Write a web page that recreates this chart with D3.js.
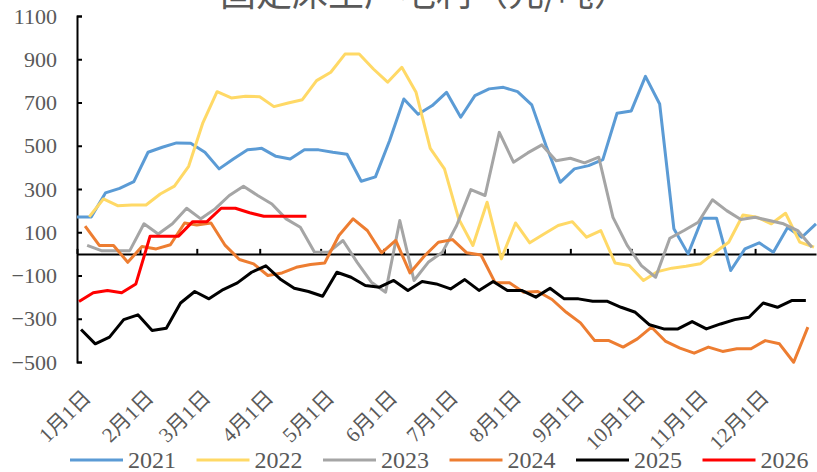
<!DOCTYPE html>
<html>
<head>
<meta charset="utf-8">
<script src="https://cdn.jsdelivr.net/npm/d3@7"></script>
<style>
  body { margin: 0; background: #fff; }
  #svg-container { width: 817px; height: 472px; }
</style>
</head>
<body>
<div id="svg-container"></div>
<script>
// weekly (Friday) readings, one array per year
const years = [2021, 2022, 2023, 2024, 2025, 2026];
const colors = ['#5B9BD5', '#FFD966', '#A5A5A5', '#ED7D31', '#000000', '#FF0000'];

const v2021 = [171, 171, 282, 303, 334, 470, 493, 513, 512, 470, 393, 439, 481, 488, 451, 439, 481, 481, 470, 461,
  336, 356, 524, 716, 646, 686, 747, 632, 732, 763, 770, 750, 689, 501, 331, 393, 408, 436, 650, 661,
  821, 693, 116, 0, 165, 165, -77, 23, 51, 8, 122, 77, 139];
const v2022 = [171, 254, 223, 226, 226, 277, 313, 405, 606, 750, 721, 729, 727, 681, 698, 713, 801, 840, 924, 924,
  855, 794, 863, 747, 488, 393, 162, 39, 239, -23, 143, 51, 92, 131, 149, 77, 108, -42, -54, -123,
  -82, -66, -57, -46, 5, 54, 180, 169, 139, 188, 54, 31];
const v2023 = [39, 15, 15, 15, 139, 92, 139, 211, 162, 208, 270, 313, 270, 231, 162, 123, 8, 8, 62, -39,
  -131, -177, 154, -123, -39, 8, 131, 297, 270, 562, 424, 467, 504, 431, 442, 421, 447, 169, 39, -54,
  -108, 72, 108, 146, 250, 200, 159, 169, 154, 139, 108, 31];
const v2024 = [128, 39, 39, -39, 34, 23, 42, 143, 134, 143, 39, -26, -46, -100, -88, -62, -49, -42, 85, 162,
  108, 5, 62, -88, -11, 54, 66, 5, -5, -134, -134, -177, -174, -211, -270, -319, -401, -401, -431, -393,
  -339, -405, -436, -459, -431, -451, -439, -439, -401, -416, -501, -339];
const v2025 = [-350, -416, -385, -304, -282, -354, -344, -227, -174, -208, -165, -134, -85, -55, -116, -159, -174, -196, -85, -108,
  -146, -154, -123, -169, -128, -139, -162, -119, -169, -128, -169, -169, -200, -159, -208, -208, -219, -219, -247, -270,
  -328, -347, -347, -313, -347, -324, -304, -293, -227, -247, -216, -216];
const v2026 = [-220, -180, -169, -180, -139, 82, 82, 82, 149, 149, 211, 211, 190, 174, 174, 174, 174];

const seriesValues = [v2021, v2022, v2023, v2024, v2025, v2026];
const yTicks = [-500, -300, -100, 100, 300, 500, 700, 900, 1100];
const monthLabels = ['1月1日', '2月1日', '3月1日', '4月1日', '5月1日', '6月1日',
  '7月1日', '8月1日', '9月1日', '10月1日', '11月1日', '12月1日'];
const title = '固定床生产毛利（元/吨）';

const BASE_YEAR = 2021;
const WIDTH = 817;
const HEIGHT = 472;
const LEFT = 77;
const RIGHT = 816;
const TOP = 16;
const BOTTOM = 362;
const SERIF = '"Liberation Serif", "Noto Sans CJK SC", serif';
const TEXT_COLOR = '#595959';

// put each Friday of a year on the same month/day of the base year
const fridayDates = (year, count) =>
  d3.timeFriday
    .range(new Date(year, 0, 1), new Date(year + 1, 0, 1))
    .slice(0, count)
    .map((d) => new Date(BASE_YEAR, d.getMonth(), d.getDate()));

const drawChart = () => {
  const svg = d3.create('svg').attr('width', WIDTH).attr('height', HEIGHT);

  const xScale = d3
    .scaleTime()
    .domain([new Date(BASE_YEAR, 0, 1), new Date(BASE_YEAR, 11, 31)])
    .range([LEFT, RIGHT]);
  const yScale = d3.scaleLinear().domain([-500, 1100]).range([BOTTOM, TOP]);

  const monthStarts = d3.range(12).map((m) => new Date(BASE_YEAR, m, 1));

  // title, mostly cut off at the top edge like in the source image
  svg
    .append('text')
    .attr('x', 425)
    .attr('y', 6)
    .attr('text-anchor', 'middle')
    .attr('font-family', '"Noto Sans CJK SC", sans-serif')
    .attr('font-size', 36)
    .attr('fill', TEXT_COLOR)
    .text(title);

  // y axis
  const yAxis = svg
    .append('g')
    .attr('transform', `translate(${LEFT}, 0)`)
    .call(
      d3.axisLeft(yScale).tickValues(yTicks).tickSize(-5).tickPadding(20).tickFormat(d3.format('d'))
    );
  yAxis.select('.domain').attr('stroke', '#000').attr('stroke-width', 2);
  yAxis.selectAll('.tick line').attr('stroke', '#000').attr('stroke-width', 2);
  yAxis
    .selectAll('.tick text')
    .attr('font-family', SERIF)
    .attr('font-size', 22)
    .attr('fill', TEXT_COLOR);

  // zero line with month ticks
  const xAxis = svg
    .append('g')
    .attr('transform', `translate(0, ${yScale(0)})`)
    .call(d3.axisBottom(xScale).tickValues(monthStarts).tickSize(-5).tickSizeOuter(0).tickFormat(''));
  xAxis.select('.domain').attr('stroke', '#000').attr('stroke-width', 2);
  xAxis.selectAll('.tick line').attr('stroke', '#000').attr('stroke-width', 2);

  // month labels below the plot
  svg
    .append('g')
    .selectAll('text')
    .data(monthStarts)
    .join('text')
    .attr('transform', (d) => `translate(${xScale(d) + 15}, 399) rotate(-45)`)
    .attr('text-anchor', 'end')
    .attr('font-family', SERIF)
    .attr('font-size', 21)
    .attr('fill', TEXT_COLOR)
    .text((d, i) => monthLabels[i]);

  const line = d3
    .line()
    .x((d) => xScale(d.date))
    .y((d) => yScale(d.value));

  const series = years.map((year, i) => {
    const dates = fridayDates(year, seriesValues[i].length);
    return { year, color: colors[i], points: seriesValues[i].map((value, k) => ({ date: dates[k], value })) };
  });

  svg
    .append('g')
    .selectAll('path')
    .data(series)
    .join('path')
    .attr('d', (s) => line(s.points))
    .attr('fill', 'none')
    .attr('stroke', (s) => s.color)
    .attr('stroke-width', 3)
    .attr('stroke-linejoin', 'round');

  // legend
  const legend = svg
    .append('g')
    .selectAll('g')
    .data(series)
    .join('g')
    .attr('transform', (s, i) => `translate(${70 + i * 126.5}, 460)`);
  legend
    .append('line')
    .attr('x1', 0)
    .attr('x2', 53)
    .attr('stroke', (s) => s.color)
    .attr('stroke-width', 3);
  legend
    .append('text')
    .attr('x', 58)
    .attr('y', 8)
    .attr('font-family', SERIF)
    .attr('font-size', 24)
    .attr('fill', TEXT_COLOR)
    .text((s) => s.year);

  document.getElementById('svg-container').appendChild(svg.node());
};

drawChart();
</script>
</body>
</html>
